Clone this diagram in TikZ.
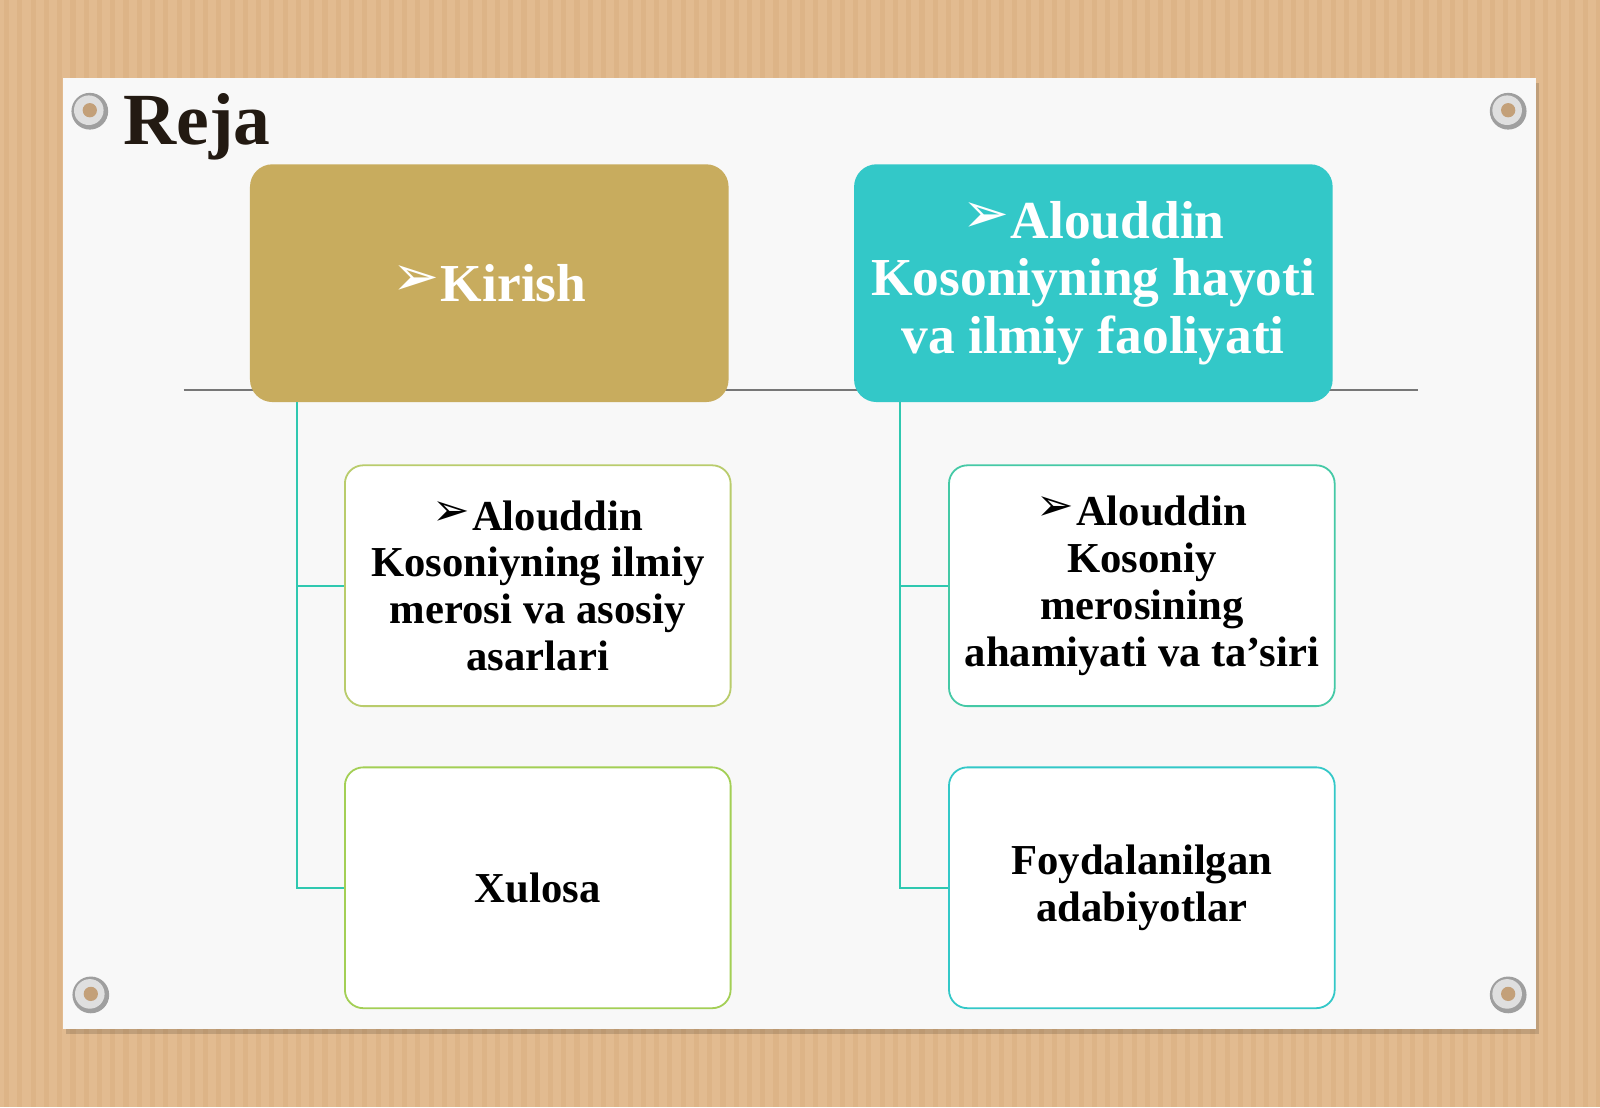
\documentclass[tikz,border=0pt]{standalone}
\usepackage{fontspec}
\setmainfont{Liberation Serif}
\newfontfamily\dingfont{DejaVu Sans}
\usetikzlibrary{positioning}
\definecolor{wood}{HTML}{E2BB90}
\definecolor{woodline}{HTML}{D4A878}
\definecolor{card}{HTML}{F8F8F8}
\definecolor{gold}{HTML}{C8AC5E}
\definecolor{teal}{HTML}{33C8C8}
\definecolor{olive}{HTML}{B9CC6C}
\definecolor{lime}{HTML}{A3CF55}
\definecolor{mint}{HTML}{45C9A6}
\definecolor{linkteal}{HTML}{2FC8B0}
\definecolor{rulegray}{HTML}{777777}
\definecolor{ink}{HTML}{231A12}
\newcommand\bullarrow{\raisebox{0.12em}{\dingfont\scalebox{1.05}{\char"27A2}}\kern1pt}
\tikzset{
  head/.style={rounded corners=4.4mm,minimum width=93.8mm,minimum height=46.6mm,
    align=center,text=white,font=\fontsize{29.8pt}{32pt}\selectfont\bfseries},
  item/.style={draw,line width=1pt,fill=white,rounded corners=3.6mm,minimum width=75.6mm,
    minimum height=47.2mm,align=center,font=\fontsize{23.8pt}{26.1pt}\selectfont\bfseries},
  link/.style={linkteal,line width=1.2pt},
  rule/.style={rulegray,line width=1pt},
  title/.style={anchor=base,text=ink,font=\fontsize{41pt}{41pt}\selectfont\bfseries},
}
\begin{document}
\begin{tikzpicture}[x=0.2mm,y=-0.2mm]
  \useasboundingbox (0,0) rectangle (1568,1085);
  % wooden wall
  \fill[wood] (0,0) rectangle (1568,1085);
  \foreach \x in {4,17,...,1568}
    \fill[woodline,opacity=0.35] (\x,0) rectangle ++(5,1085);
  % card with its shadow
  \fill[black,opacity=0.15] (65,81) rectangle (1508,1013);
  \fill[card] (62,76) rectangle (1505,1008);
  % pins
  \foreach \p in {(88,109),(1478,109),(89,975),(1478,975)} {
    \fill[gray!75] \p circle (18);
    \fill[gray!25] \p ++(-1,-1) circle (14.5);
    \fill[woodline!80!gray] \p ++(0,-1) circle (7);
  }
  \node[title] (reja) at (193,142) {Reja};
  % the long grey rule behind the heads
  \coordinate (ruleL) at (180,382);
  \coordinate (ruleR) at (1390,382);
  \draw[rule] (ruleL) -- (ruleR);
  % heads
  \node[head,fill=gold] (kirish) at (479.5,277.5) {\bullarrow Kirish};
  \node[head,fill=teal] (hayot) at (1071.5,277.5)
    {\bullarrow Alouddin\\Kosoniyning hayoti\\va ilmiy faoliyati};
  % items
  \node[item,draw=olive] (meros) at (527,574)
    {\bullarrow Alouddin\\Kosoniyning ilmiy\\merosi va asosiy\\asarlari};
  \node[item,draw=lime] (xulosa) at (527,870) {Xulosa};
  \node[item,draw=mint] (tasir) at (1119,574)
    {\bullarrow Alouddin\\Kosoniy\\merosining\\ahamiyati va ta’siri};
  \node[item,draw=teal] (adab) at (1119,870) {Foydalanilgan\\adabiyotlar};
  % connectors
  \draw[link] ([xshift=46*0.2mm]kirish.south west) |- (meros.west);
  \draw[link] ([xshift=46*0.2mm]kirish.south west) |- (xulosa.west);
  \draw[link] ([xshift=45*0.2mm]hayot.south west) |- (tasir.west);
  \draw[link] ([xshift=45*0.2mm]hayot.south west) |- (adab.west);
\end{tikzpicture}
\end{document}
